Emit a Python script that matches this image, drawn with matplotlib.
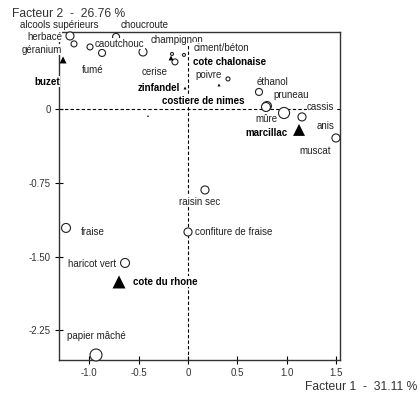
# Plan factoriel (facteurs 1 et 2) : descripteurs et vins

import matplotlib.pyplot as plt

plt.rcParams['font.family'] = ['Liberation Sans', 'DejaVu Sans']

# descripteurs (cercles)
descripteurs = ['herbacé', 'géranium', 'caoutchouc', 'fumé', 'choucroute',
                'alcools supérieurs', 'champignon', 'cerise', 'ciment/béton',
                'poivre', 'éthanol', 'pruneau', 'mûre', 'cassis', 'anis',
                'muscat', 'raisin sec', 'confiture de fraise', 'fraise',
                'haricot vert', 'papier mâché']
desc_f1 = [-1.196, -1.155, -0.993, -0.871, -0.729, -0.456, -0.162, -0.132,
           -0.041, 0.405, 0.719, 0.800, 0.790, 0.973, 1.155, 1.499, 0.172,
           0.000, -1.236, -0.638, -0.932]
desc_f2 = [0.742, 0.661, 0.630, 0.569, 0.732, 0.579, 0.559, 0.478, 0.549,
           0.305, 0.173, 0.030, 0.020, -0.041, -0.081, -0.295, -0.823,
           -1.250, -1.209, -1.565, -2.500]
desc_qual = [0.62, 0.46, 0.46, 0.54, 0.54, 0.62, 0.23, 0.46, 0.23, 0.31,
             0.54, 0.69, 0.69, 0.85, 0.62, 0.62, 0.62, 0.62, 0.69, 0.69, 0.92]

# vins (triangles)
vins = ['buzet', 'cote chalonaise', 'zinfandel', 'costiere de nimes', '',
        'marcillac', 'cote du rhone']
vins_f1 = [-1.266, -0.172, -0.030, -0.405, 0.314, 1.125, -0.699]
vins_f2 = [0.498, 0.518, 0.213, -0.071, 0.244, -0.213, -1.758]
vins_qual = [0.54, 0.38, 0.23, 0.15, 0.23, 0.92, 1.0]

# placement des étiquettes : décalage en pixels (droite, bas) et alignement
desc_lab = [(-8, 1, 'right'), (-12, 6, 'right'), (5, -3, 'left'),
            (-9, 17, 'center'), (5, -12, 'left'), (-44, -27, 'right'),
            (5, -14, 'center'), (-7, 10, 'right'), (10, -7, 'left'),
            (-6, -4, 'right'), (-2, -10, 'left'), (6, -11, 'left'),
            (0, 12, 'center'), (23, -6, 'left'), (15, 9, 'left'),
            (-21, 13, 'center'), (-5, 12, 'center'), (7, 0, 'left'),
            (15, 4, 'left'), (-9, 1, 'right'), (0, -19, 'center')]
vins_lab = [(-16, 22, 'center'), (22, 4, 'left'), (-5, 0, 'right'),
            (14, -15, 'left'), (0, 0, 'left'), (-12, 3, 'right'),
            (14, 0, 'left')]

xticks = [-1.0, -0.5, 0, 0.5, 1.0, 1.5]
xticklabels = ['-1.0', '-0.5', '0', '0.5', '1.0', '1.5']
yticks = [0, -0.75, -1.50, -2.25]
yticklabels = ['0', '-0.75', '-1.50', '-2.25']

PX = 13 * 0.72  # qualité 1 -> 13 px

fig = plt.figure(figsize=(4.2, 3.96), dpi=100)
ax = fig.add_axes([0.1405, 0.0909, 0.6690, 0.8283])
ax.set_xlim(-1.307, 1.540)
ax.set_ylim(-2.551, 0.782)

ax.axhline(0, color='black', lw=0.8, dashes=(3, 2), zorder=1)
ax.axvline(0, color='black', lw=0.8, dashes=(3, 2), zorder=1)

ax.scatter(desc_f1, desc_f2, s=[(q * PX) ** 2 for q in desc_qual],
           marker='o', facecolors='white', edgecolors='#222222',
           linewidths=0.8, zorder=3, clip_on=False)
ax.scatter(vins_f1, vins_f2, s=[(q * PX) ** 2 for q in vins_qual],
           marker='^', color='black', linewidths=0, zorder=3, clip_on=False)

box = dict(boxstyle='square,pad=0.05', facecolor='white', edgecolor='none')
for name, x, y, (dx, dy, ha) in zip(descripteurs, desc_f1, desc_f2, desc_lab):
    ax.annotate(name, (x, y), xytext=(dx, -dy), textcoords='offset pixels',
                ha=ha, va='center', fontsize=7, color='#222222', bbox=box,
                zorder=4, annotation_clip=False)
for name, x, y, (dx, dy, ha) in zip(vins, vins_f1, vins_f2, vins_lab):
    if name:
        ax.annotate(name, (x, y), xytext=(dx, -dy), textcoords='offset pixels',
                    ha=ha, va='center', fontsize=7, fontweight='bold',
                    color='black', bbox=box, zorder=4, annotation_clip=False)

ax.set_xticks(xticks)
ax.set_xticklabels(xticklabels)
ax.set_yticks(yticks)
ax.set_yticklabels(yticklabels)
ax.tick_params(direction='inout', length=6, width=0.8, labelsize=7,
               labelcolor='#333333', pad=3)
for sp in ax.spines.values():
    sp.set_linewidth(1.0)
    sp.set_color('#333333')
    sp.set_zorder(2)

fig.text(0.0286, 0.9646, 'Facteur 2  -  26.76 %', fontsize=8.7,
         color='#333333', ha='left', va='center')
fig.text(0.993, 0.0215, 'Facteur 1  -  31.11 %', fontsize=8.7,
         color='#333333', ha='right', va='center')

fig.savefig('out.png', dpi=100)
